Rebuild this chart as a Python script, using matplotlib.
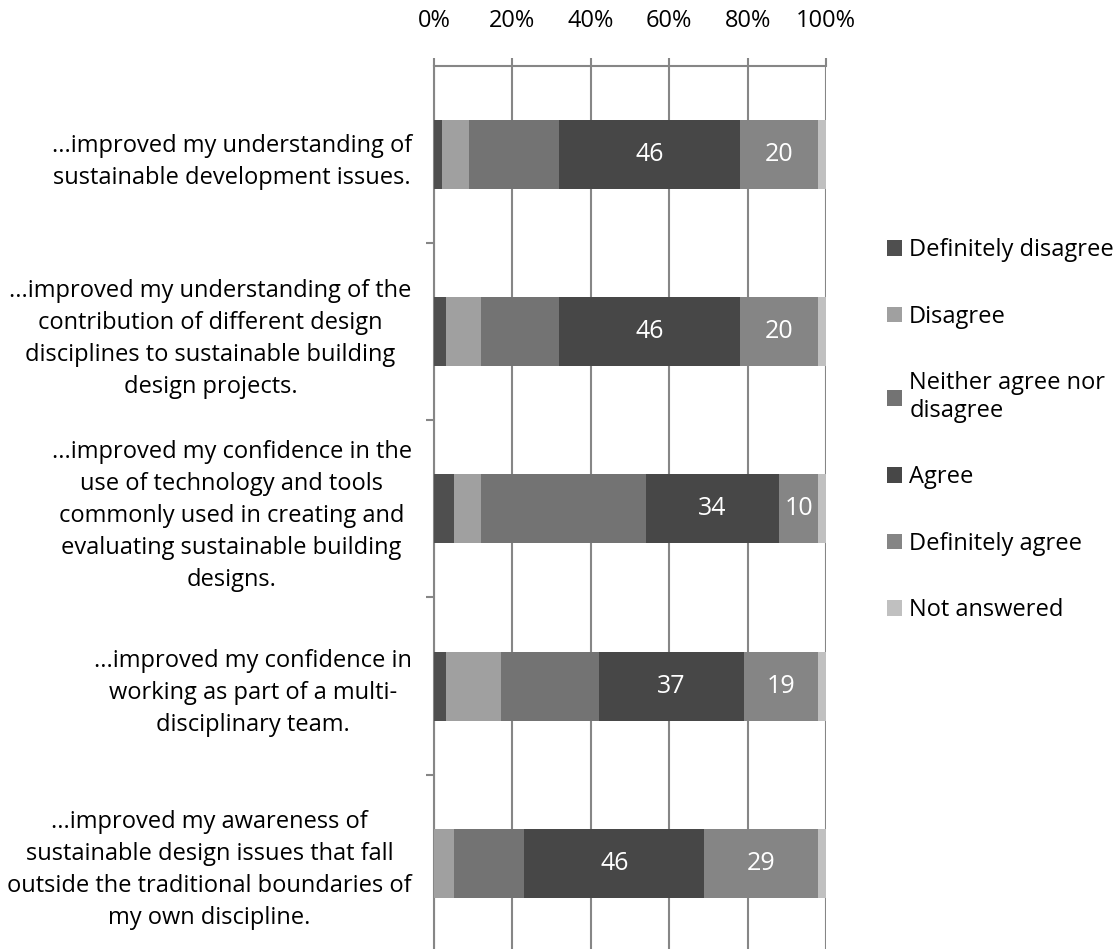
import matplotlib.pyplot as plt
import numpy as np

plt.rcParams["font.family"] = ["Open Sans", "DejaVu Sans"]

statements = [
    "...improved my understanding of\nsustainable development issues.",
    "...improved my understanding of the\ncontribution of different design\ndisciplines to sustainable building\ndesign projects.",
    "...improved my confidence in the\nuse of technology and tools\ncommonly used in creating and\nevaluating sustainable building\ndesigns.",
    "...improved my confidence in\nworking as part of a multi-\ndisciplinary team.",
    "...improved my awareness of\nsustainable design issues that fall\noutside the traditional boundaries of\nmy own discipline.",
]

responses = [
    "Definitely disagree",
    "Disagree",
    "Neither agree nor\ndisagree",
    "Agree",
    "Definitely agree",
    "Not answered",
]

definitely_disagree = [2, 3, 5, 3, 0]
disagree = [7, 9, 7, 14, 5]
neither = [23, 20, 42, 25, 18]
agree = [46, 46, 34, 37, 46]
definitely_agree = [20, 20, 10, 19, 29]
not_answered = [2, 2, 2, 2, 2]

colors = ["#4f4f4f", "#a0a0a0", "#737373", "#474747", "#858585", "#c0c0c0"]
labelled = [False, False, False, True, True, False]

series = [definitely_disagree, disagree, neither, agree, definitely_agree, not_answered]
counts = np.array(series, dtype=float)
pct = counts / counts.sum(axis=0) * 100

fs = 17
fig = plt.figure(figsize=(11.19, 9.49), dpi=100)
ax = fig.add_axes([0.3878, -0.003, 0.3504, 0.9335])

y = np.arange(len(statements))
left = np.zeros(len(statements))
handles = []
for name, vals, raw, col, show in zip(responses, pct, counts, colors, labelled):
    bars = ax.barh(y, vals, left=left, height=0.39, color=col, label=name, zorder=3)
    handles.append(bars)
    if show:
        for yi, l, w, r in zip(y, left, vals, raw):
            if r > 0:
                ax.text(l + w / 2, yi, f"{int(r)}", ha="center", va="center",
                        color="white", fontsize=18, zorder=4)
    left += vals

ax.set_xlim(0, 100)
ax.set_ylim(4.5, -0.5)
ax.xaxis.tick_top()
ax.set_xticks(np.arange(0, 101, 20))
ax.set_xticklabels([f"{v}%" for v in range(0, 101, 20)], fontsize=fs)
ax.tick_params(axis="x", length=6, width=1.5, color="#868686", pad=18)
ax.grid(axis="x", color="#868686", linewidth=1.5, zorder=0)

ax.set_yticks(y)
ax.set_yticklabels(statements, fontsize=fs, multialignment="center", linespacing=1.45)
ax.set_yticks(np.arange(0.5, 4.6, 1), minor=True)
ax.tick_params(axis="y", which="major", length=0, pad=16)
ax.tick_params(axis="y", which="minor", length=6, width=1.5, color="#868686")

for side in ["right", "bottom"]:
    ax.spines[side].set_visible(False)
for side in ["top", "left"]:
    ax.spines[side].set_color("#868686")
    ax.spines[side].set_linewidth(1.5)

leg = fig.legend(handles=handles, loc="upper left", bbox_to_anchor=(0.7927, 0.749),
                 frameon=False, fontsize=fs, labelspacing=1.8, borderpad=0,
                 borderaxespad=0, handlelength=0.64, handleheight=0.64,
                 handletextpad=0.3)

fig.savefig("out.png", dpi=100)
